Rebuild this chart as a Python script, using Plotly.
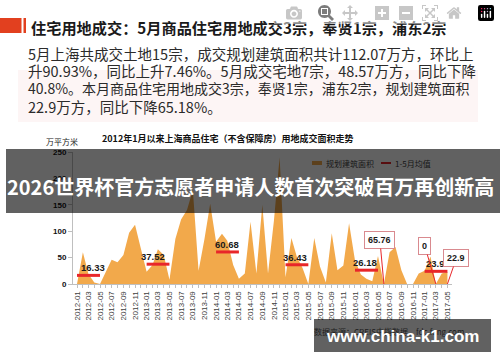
import plotly.graph_objects as go

# ---------------- data ----------------
months = ["2012-01","2012-02","2012-03","2012-04","2012-05","2012-06","2012-07","2012-08","2012-09","2012-10","2012-11","2012-12",
          "2013-01","2013-02","2013-03","2013-04","2013-05","2013-06","2013-07","2013-08","2013-09","2013-10","2013-11","2013-12",
          "2014-01","2014-02","2014-03","2014-04","2014-05","2014-06","2014-07","2014-08","2014-09","2014-10","2014-11","2014-12",
          "2015-01","2015-02","2015-03","2015-04","2015-05","2015-06","2015-07","2015-08","2015-09","2015-10","2015-11","2015-12",
          "2016-01","2016-02","2016-03","2016-04","2016-05","2016-06","2016-07","2016-08","2016-09","2016-10","2016-11","2016-12",
          "2017-01","2017-02","2017-03","2017-04","2017-05"]
area_values = [0, 60, 19, 3, 0, 22, 46, 41, 55, 97, 112, 68,
               23, 36, 66, 55, 8, 85, 122, 140, 178, 25, 85, 152,
               80, 95, 82, 36, 10, 20, 118, 20, 150, 20, 120, 240,
               13, 87, 52, 30, 0, 87, 33, 3, 96, 26, 35, 115,
               45, 18, 10, 5, 53, 0, 60, 70, 26, 0, 0, 20,
               25, 52, 0, 20, 22.9]
avg_start = ["2012-01", "2013-01", "2014-01", "2015-01", "2016-01", "2017-01"]
avg_end = ["2012-05", "2013-05", "2014-05", "2015-05", "2016-05", "2017-05"]
avg_mid = ["2012-03", "2013-03", "2014-03", "2015-03", "2016-03", "2017-03"]
avg_values = [16.33, 37.52, 60.68, 36.43, 26.18, 23.99]
callout_months = ["2016-06", "2017-03", "2017-05"]
callout_labels = ["65.76", "0", "22.9"]
tick_labels = months[::2]

headline = "住宅用地成交：5月商品住宅用地成交3宗，奉贤1宗，浦东2宗"
para_lines = ["5月上海共成交土地15宗，成交规划建筑面积共计112.07万方，环比上",
              "升90.93%，同比上升7.46%。5月成交宅地7宗，48.57万方，同比下降",
              "40.8%。本月商品住宅用地成交3宗，奉贤1宗，浦东2宗，规划建筑面积",
              "22.9万方，同比下降65.18%。"]
chart_title = "2012年1月以来上海商品住宅（不含保障房）用地成交面积走势"
y_unit = "万平方米"
legend_names = ["规划建筑面积", "1-5月均值"]
banner_text = "2026世界杯官方志愿者申请人数首次突破百万再创新高"
source_text = "数据来源：CREIS中指数据，fdc.fang.com"
watermark = "www.china-k1.com"

# ---------------- layout helpers ----------------
W, H = 500, 362
L, R, T, B = 73, 48, 152, 78
PW, PH = W - L - R, H - T - B


def px(x):
    return (x - L) / PW


def py(y):
    return (H - B - y) / PH


CJK = "Noto Sans CJK SC"
ORANGE = "#F2A94B"
RED = "#E8262A"

fig = go.Figure()
fig.add_trace(go.Scatter(x=months, y=area_values, mode="lines", fill="tozeroy",
                         line=dict(width=0, color=ORANGE), fillcolor=ORANGE,
                         showlegend=False, hoverinfo="skip"))
for s, e, v in zip(avg_start, avg_end, avg_values):
    fig.add_trace(go.Scatter(x=[s, e], y=[v, v], mode="lines",
                             line=dict(width=3, color=RED), showlegend=False))

annotations = []
shapes = []

# paragraph background
shapes.append(dict(type="rect", xref="paper", yref="paper", x0=px(18), x1=px(478),
                   y0=py(122), y1=py(70), fillcolor="#FDF5F5", line=dict(width=0), layer="below"))
# headline marker
shapes.append(dict(type="rect", xref="paper", yref="paper", x0=px(0), x1=px(21.5),
                   y0=py(33), y1=py(18), fillcolor="#E2401F", line=dict(width=0)))
shapes.append(dict(type="rect", xref="paper", yref="paper", x0=px(23.5), x1=px(26),
                   y0=py(33), y1=py(18), fillcolor="#E2401F", line=dict(width=0)))

annotations.append(dict(text="<b>" + headline + "</b>", x=px(29), y=py(26.5), xref="paper", yref="paper",
                        xanchor="left", yanchor="middle", showarrow=False,
                        font=dict(family=CJK, size=15.2, color="#1a1a1a")))
para_sizes = [14.5, 14.5, 14.0, 14.5]
for i, line in enumerate(para_lines):
    annotations.append(dict(text=line, x=px(26), y=py(53 + 17.7 * i), xref="paper", yref="paper",
                            xanchor="left", yanchor="middle", showarrow=False,
                            font=dict(family=CJK, size=para_sizes[i], color="#2b2b2b")))

annotations.append(dict(text="<b>" + chart_title + "</b>", x=px(228), y=py(138), xref="paper", yref="paper",
                        xanchor="center", yanchor="middle", showarrow=False,
                        font=dict(family=CJK, size=9, color="#111")))
annotations.append(dict(text=y_unit, x=px(62), y=py(141), xref="paper", yref="paper",
                        xanchor="center", yanchor="middle", showarrow=False,
                        font=dict(family=CJK, size=8, color="#222")))

# legend (manual, sits under the banner)
shapes.append(dict(type="rect", xref="paper", yref="paper", x0=px(312), x1=px(322),
                   y0=py(165), y1=py(161), fillcolor=ORANGE, line=dict(width=0)))
shapes.append(dict(type="line", xref="paper", yref="paper", x0=px(381), x1=px(391),
                   y0=py(163), y1=py(163), line=dict(color=RED, width=2)))
annotations.append(dict(text=legend_names[0], x=px(324), y=py(163), xref="paper", yref="paper",
                        xanchor="left", yanchor="middle", showarrow=False,
                        font=dict(family=CJK, size=8, color="#161616")))
annotations.append(dict(text=legend_names[1], x=px(393), y=py(163), xref="paper", yref="paper",
                        xanchor="left", yanchor="middle", showarrow=False,
                        font=dict(family=CJK, size=8, color="#161616")))

# average labels
label_shift = [5, -5, 0, -2, -1, 2]
for m, v, sh in zip(avg_mid, avg_values, label_shift):
    annotations.append(dict(text="<b>%.2f</b>" % v, x=m, y=v, xref="x", yref="y",
                            xanchor="center", yanchor="bottom", showarrow=False, xshift=sh, yshift=0,
                            font=dict(family="Liberation Sans", size=9.5, color="#1a1a1a")))

# callouts
callout_offsets = [(-4, -44), (-11, -38), (9, -26)]
for m, t, (ax, ay) in zip(callout_months, callout_labels, callout_offsets):
    annotations.append(dict(text="<b>" + t + "</b>", x=m, y=0, xref="x", yref="y",
                            showarrow=True, arrowhead=0, arrowwidth=1, arrowcolor=RED,
                            ax=ax, ay=ay, bgcolor="white", bordercolor="#D98A8F", borderwidth=1,
                            borderpad=3, font=dict(family="Liberation Sans", size=9, color="#1a1a1a")))

# banner overlay
shapes.append(dict(type="rect", xref="paper", yref="paper", x0=px(6), x1=px(500),
                   y0=py(213), y1=py(149), fillcolor="rgba(0,0,0,0.62)", line=dict(width=0), layer="above"))
annotations.append(dict(text="<b>" + banner_text + "</b>", x=px(250), y=py(186), xref="paper", yref="paper",
                        xanchor="center", yanchor="middle", showarrow=False,
                        font=dict(family=CJK, size=20, color="white")))

# watermark
annotations.append(dict(text=source_text, x=px(312), y=py(331), xref="paper", yref="paper",
                        xanchor="left", yanchor="middle", showarrow=False,
                        font=dict(family=CJK, size=8, color="#1e1e1e")))
shapes.append(dict(type="rect", xref="paper", yref="paper", x0=px(314), x1=px(491),
                   y0=py(352), y1=py(319), fillcolor="rgba(0,0,0,0.62)", line=dict(width=0), layer="above"))
annotations.append(dict(text="<b>" + watermark + "</b>", x=px(402), y=py(336), xref="paper", yref="paper",
                        xanchor="center", yanchor="middle", showarrow=False,
                        font=dict(family="Liberation Sans", size=17, color="white")))

fig.update_layout(
    width=W, height=H, margin=dict(l=L, r=R, t=T, b=B, pad=0),
    paper_bgcolor="white", plot_bgcolor="white", showlegend=False,
    shapes=shapes, annotations=annotations,
    xaxis=dict(type="date", range=["2011-12-11", "2017-05-25"], tickvals=tick_labels, ticktext=tick_labels,
               tickangle=-90, ticks="outside", ticklen=3, tickcolor="#bfbfbf", showline=True,
               linecolor="#bfbfbf", linewidth=1, showgrid=False, zeroline=False,
               tickfont=dict(family="Liberation Sans", size=8, color="#404040"),
               minor=dict(ticks="outside", ticklen=3, dtick="M1", tick0="2012-01-01", tickcolor="#bfbfbf", showgrid=False)),
    yaxis=dict(range=[0, 250], dtick=50, ticks="outside", ticklen=4, tickcolor="#bfbfbf",
               showline=True, linecolor="#bfbfbf", linewidth=1, showgrid=False, zeroline=False,
               tickfont=dict(family="Liberation Sans", size=8, color="#111", weight="bold")),
)

fig.write_html("out.html",
               post_script="document.body.style.margin='0';document.body.style.overflow='hidden';")
